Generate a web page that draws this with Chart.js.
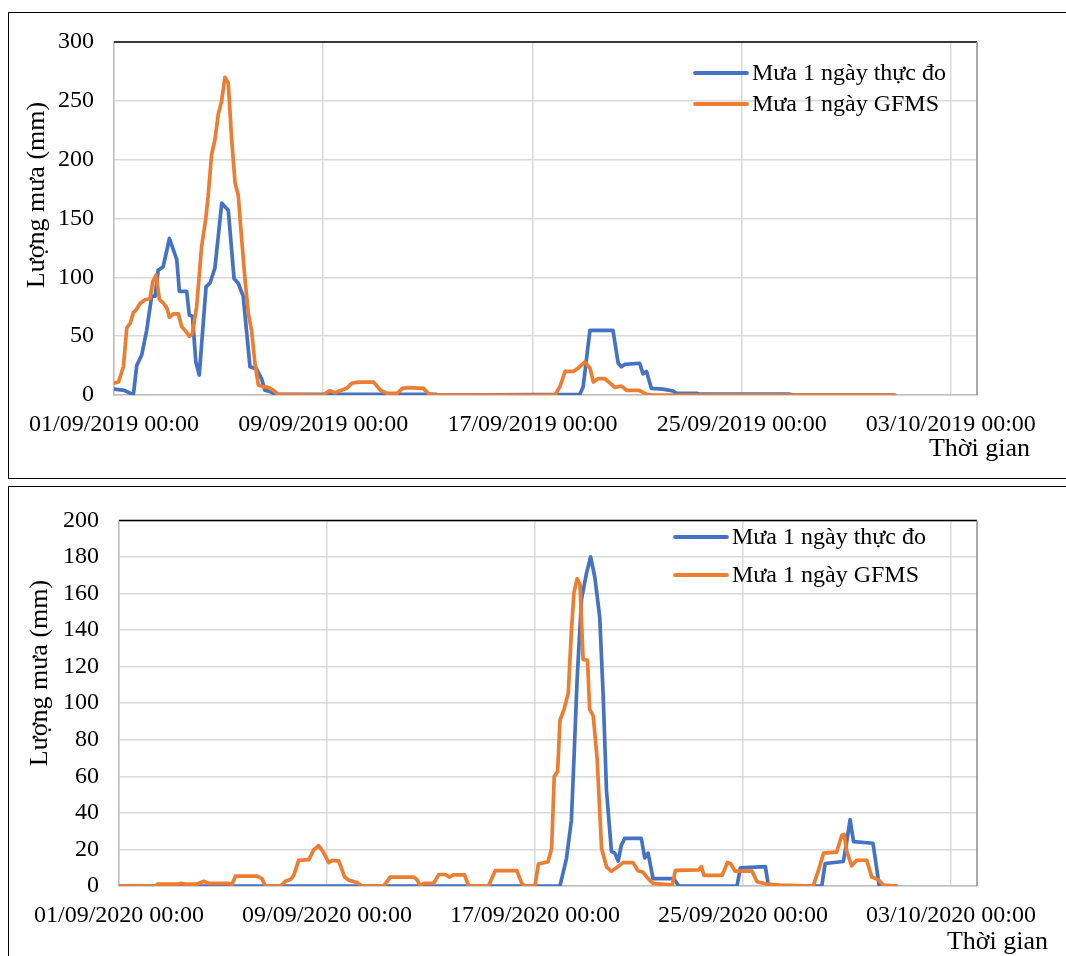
<!DOCTYPE html>
<html>
<head>
<meta charset="utf-8">
<script src="https://cdn.jsdelivr.net/npm/chart.js@4.4.1/dist/chart.umd.min.js"></script>
<style>
  html, body { margin: 0; padding: 0; background: #fff; overflow: hidden; }
  body { width: 1066px; height: 956px; position: relative; }
  .box { position: absolute; left: 8px; width: 1200px; border: 1px solid #000; }
  #box1 { top: 12px; height: 465px; }
  #box2 { top: 486px; height: 500px; }
  canvas { position: absolute; left: 0; }
  #c2019 { top: 0; }
  #c2020 { top: 486px; }
</style>
</head>
<body>
<div class="box" id="box1"></div>
<div class="box" id="box2"></div>
<canvas id="c2019" width="1066" height="478"></canvas>
<canvas id="c2020" width="1066" height="470"></canvas>
<script>
// Lượng mưa 1 ngày: thực đo vs GFMS, tháng 9/2019 và 9/2020
// trục x: số ngày kể từ 01/09 00:00

const tickDays = [0, 8, 16, 24, 32];
const tickLabels2019 = ['01/09/2019 00:00', '09/09/2019 00:00', '17/09/2019 00:00', '25/09/2019 00:00', '03/10/2019 00:00'];
const tickLabels2020 = ['01/09/2020 00:00', '09/09/2020 00:00', '17/09/2020 00:00', '25/09/2020 00:00', '03/10/2020 00:00'];
const seriesNames = ['Mưa 1 ngày thực đo', 'Mưa 1 ngày GFMS'];

// 2019 - thực đo
const obs2019Day = [
    0, 0.4, 0.74, 0.87, 1.06, 1.25, 1.44, 1.57, 1.69, 1.88,
    2.12, 2.4, 2.5, 2.78, 2.88, 3.0, 3.13, 3.26, 3.52, 3.67,
    3.86, 4.12, 4.37, 4.59, 4.75, 4.94, 5.2, 5.45, 5.64, 5.77,
    5.96, 6.2, 12.3, 12.4, 17.81, 17.94, 18.2, 19.08, 19.28, 19.4,
    19.53, 20.1, 20.23, 20.36, 20.55, 20.99, 21.38, 21.5, 22.28, 22.4,
    25.8, 26.0, 29.85
];
const obs2019Mm = [
    5, 4, 0, 25, 34, 55, 84, 84, 106, 109,
    133, 115, 88, 88, 68, 67, 28, 17, 92, 95,
    108, 163, 157, 99, 95, 84, 24, 22, 14, 4,
    3, 0.5, 0.5, 0, 0.5, 7, 55, 55, 27, 24,
    26, 27, 18, 20, 5.6, 5, 3.4, 1.4, 1.4, 0.7,
    0.7, 0, 0
];

// 2019 - GFMS
const gfms2019Day = [
    0, 0.17, 0.36, 0.49, 0.62, 0.74, 0.87, 1.0, 1.19, 1.38,
    1.48, 1.61, 1.74, 1.89, 2.02, 2.12, 2.27, 2.46, 2.59, 2.75,
    2.88, 3.0, 3.16, 3.35, 3.51, 3.6, 3.73, 3.86, 3.99, 4.11,
    4.24, 4.37, 4.5, 4.63, 4.75, 4.88, 5.01, 5.14, 5.26, 5.39,
    5.52, 5.71, 5.9, 6.09, 6.28, 8.0, 8.25, 8.45, 8.7, 8.9,
    9.09, 9.35, 9.93, 10.19, 10.44, 10.83, 11.03, 11.29, 11.83, 12.03,
    12.33, 16.86, 17.05, 17.25, 17.56, 17.76, 18.0, 18.2, 18.33, 18.52,
    18.77, 19.02, 19.15, 19.41, 19.6, 20.08, 20.37, 20.6, 29.85
];
const gfms2019Mm = [
    10, 11, 24, 57, 61, 70, 73, 78, 81, 82,
    96, 102, 81, 78, 74, 66, 69, 69, 58, 54,
    50, 52, 75, 126, 150, 169, 204, 217, 239, 249,
    270, 265, 217, 180, 170, 133, 98, 69, 55, 27,
    8.5, 7, 6.5, 4, 0.5, 0, 3.7, 2, 4, 5.7,
    10, 11, 11, 4, 1.4, 1.4, 5.7, 6.2, 5.7, 1,
    0, 0, 7, 20, 20, 23, 28, 23, 11, 14,
    14, 9, 6.5, 7.6, 4, 4, 0.5, 0, 0
];

// 2020 - thực đo
const obs2020Day = [
    0, 16.96, 17.21, 17.4, 17.5, 17.62, 17.79, 17.98, 18.14, 18.3,
    18.49, 18.62, 18.75, 18.94, 19.07, 19.2, 19.32, 19.45, 20.09, 20.22,
    20.35, 20.54, 21.34, 21.53, 23.77, 23.9, 24.86, 24.98, 27.03, 27.16,
    27.86, 27.99, 28.12, 28.25, 29.0, 29.24, 29.9
];
const obs2020Mm = [
    0, 0, 15, 36, 70, 113, 157, 171, 180, 169,
    147, 105, 52, 19, 18, 13.6, 22.4, 26, 26, 15.4,
    18, 4, 4, 0, 0, 9.9, 10.6, 0, 0, 12.3,
    13.4, 24.3, 36.3, 24.3, 23.4, 0, 0
];

// 2020 - GFMS
const gfms2020Day = [
    0, 1.41, 1.48, 2.25, 2.36, 2.56, 3.0, 3.26, 3.46, 4.16,
    4.35, 4.48, 5.31, 5.5, 5.63, 6.21, 6.4, 6.59, 6.72, 6.91,
    7.3, 7.49, 7.68, 7.84, 8.07, 8.19, 8.45, 8.68, 8.83, 9.15,
    9.35, 10.18, 10.43, 11.33, 11.46, 11.59, 11.72, 12.1, 12.3, 12.55,
    12.7, 12.87, 13.29, 13.45, 14.21, 14.47, 15.3, 15.49, 15.62, 16.0,
    16.13, 16.5, 16.64, 16.74, 16.87, 16.96, 17.12, 17.28, 17.4, 17.5,
    17.62, 17.73, 17.85, 18.02, 18.1, 18.24, 18.39, 18.56, 18.75, 18.94,
    19.13, 19.39, 19.77, 19.96, 20.16, 20.35, 20.54, 21.28, 21.4, 22.3,
    22.4, 22.5, 23.2, 23.4, 23.52, 23.7, 24.35, 24.54, 24.92, 25.43,
    26.7, 26.9, 27.1, 27.6, 27.8, 27.89, 27.99, 28.18, 28.37, 28.76,
    28.95, 29.2, 29.4, 29.9
];
const gfms2020Mm = [
    0, 0, 1, 1, 1.4, 1, 1, 2.6, 1.4, 1.4,
    1, 5.4, 5.4, 4, 0, 0, 2.6, 3.5, 5.8, 14,
    14.4, 19.8, 22, 19, 12.8, 14, 13.7, 4.9, 3.2, 1.9,
    0, 0, 4.9, 4.9, 3.5, 0, 1.4, 1.4, 6.3, 6.3,
    4.9, 6.1, 6.1, 0, 0, 8.4, 8.4, 1.4, 0, 0,
    12, 13.3, 20.6, 60, 62.6, 90.6, 96.8, 105.5, 139.6, 160.6,
    168, 165, 124, 123.5, 96.8, 93, 69.6, 20.6, 10.5, 8,
    10, 12.8, 12.8, 8.4, 7.5, 4, 1.4, 0.5, 8.5, 8.8,
    10.6, 5.8, 5.8, 12.9, 12.3, 8.1, 8.1, 2.3, 1, 0.5,
    0, 8.5, 18, 18.5, 27.8, 28.2, 19, 11, 14.1, 14.1,
    4.9, 3.5, 0.5, 0
];

const FONT = '"Liberation Serif", "Times New Roman", serif';
const BLUE = '#4472C4';
const ORANGE = '#ED7D31';

function toPoints(days, values) {
    return days.map((d, i) => ({ x: d, y: values[i] }));
}

// khung vùng vẽ (viền trên đen, viền phải xám)
const framePlugin = {
    id: 'frame',
    beforeDatasetsDraw(chart) {
        const { ctx, chartArea: a } = chart;
        ctx.save();
        ctx.lineWidth = 1.5;
        ctx.strokeStyle = '#000';
        ctx.beginPath();
        ctx.moveTo(a.left, a.top);
        ctx.lineTo(a.right, a.top);
        ctx.stroke();
        ctx.strokeStyle = '#8c8c8c';
        ctx.beginPath();
        ctx.moveTo(a.right, a.top);
        ctx.lineTo(a.right, a.bottom);
        ctx.stroke();
        ctx.restore();
    }
};

// chú giải trong vùng vẽ + tên trục
const labelsPlugin = {
    id: 'labels',
    afterDraw(chart, args, opts) {
        const ctx = chart.ctx;
        ctx.save();
        ctx.fillStyle = '#000';
        ctx.textBaseline = 'middle';
        ctx.font = '24px ' + FONT;
        chart.data.datasets.forEach((ds, i) => {
            const y = opts.legendY[i];
            ctx.strokeStyle = ds.borderColor;
            ctx.lineWidth = 3.8;
            ctx.lineCap = 'round';
            ctx.beginPath();
            ctx.moveTo(opts.legendX, y);
            ctx.lineTo(opts.legendX + 52, y);
            ctx.stroke();
            ctx.textAlign = 'left';
            ctx.fillText(ds.label, opts.legendX + 57, y + 1);
        });

        ctx.font = '26px ' + FONT;
        ctx.textAlign = 'right';
        ctx.fillText(opts.xTitle, opts.xTitleX, opts.xTitleY);

        ctx.translate(opts.yTitleX, opts.yTitleY);
        ctx.rotate(-Math.PI / 2);
        ctx.textAlign = 'center';
        ctx.fillText(opts.yTitle, 0, 0);
        ctx.restore();
    }
};

function makeChart(canvasId, cfg) {
    const ctx = document.getElementById(canvasId).getContext('2d');
    return new Chart(ctx, {
        type: 'line',
        data: {
            datasets: [
                {
                    label: seriesNames[0],
                    data: toPoints(cfg.obsDay, cfg.obsMm),
                    borderColor: BLUE,
                    borderWidth: 3.7,
                    order: 1
                },
                {
                    label: seriesNames[1],
                    data: toPoints(cfg.gfmsDay, cfg.gfmsMm),
                    borderColor: ORANGE,
                    borderWidth: 3.7,
                    order: 0
                }
            ]
        },
        options: {
            responsive: false,
            animation: false,
            parsing: false,
            elements: {
                point: { radius: 0 },
                line: { tension: 0, borderJoinStyle: 'round', borderCapStyle: 'round' }
            },
            layout: {
                padding: { left: 0, right: cfg.padRight, top: cfg.padTop, bottom: 0 }
            },
            scales: {
                x: {
                    type: 'linear',
                    min: 0,
                    max: 33,
                    afterBuildTicks: (scale) => {
                        scale.ticks = tickDays.map(v => ({ value: v }));
                    },
                    afterFit: (scale) => { scale.height = cfg.xAxisHeight; },
                    ticks: {
                        autoSkip: false,
                        maxRotation: 0,
                        padding: 15,
                        color: '#000',
                        font: { family: FONT, size: 24 },
                        callback: (value, index) => cfg.tickLabels[index]
                    },
                    grid: { color: '#d9d9d9', lineWidth: 1.5, drawTicks: false },
                    border: { color: '#bfbfbf', width: 1.5 }
                },
                y: {
                    min: 0,
                    max: cfg.yMax,
                    afterFit: (scale) => { scale.width = cfg.yAxisWidth; },
                    ticks: {
                        stepSize: cfg.yStep,
                        padding: 20,
                        color: '#000',
                        font: { family: FONT, size: 24 }
                    },
                    grid: { color: '#d9d9d9', lineWidth: 1.5, drawTicks: false },
                    border: { color: '#bfbfbf', width: 1.5 }
                }
            },
            plugins: {
                legend: { display: false },
                tooltip: { enabled: false },
                labels: {
                    legendX: cfg.legendX,
                    legendY: cfg.legendY,
                    xTitle: 'Thời gian',
                    xTitleX: cfg.xTitleX,
                    xTitleY: cfg.xTitleY,
                    yTitle: 'Lượng mưa (mm)',
                    yTitleX: cfg.yTitleX,
                    yTitleY: cfg.yTitleY
                }
            }
        },
        plugins: [framePlugin, labelsPlugin]
    });
}

makeChart('c2019', {
    obsDay: obs2019Day, obsMm: obs2019Mm,
    gfmsDay: gfms2019Day, gfmsMm: gfms2019Mm,
    tickLabels: tickLabels2019,
    yMax: 300, yStep: 50,
    padTop: 42, padRight: 89,
    yAxisWidth: 114, xAxisHeight: 83,
    legendX: 695, legendY: [73, 104],
    xTitleX: 1030, xTitleY: 449,
    yTitleX: 37, yTitleY: 195
});

makeChart('c2020', {
    obsDay: obs2020Day, obsMm: obs2020Mm,
    gfmsDay: gfms2020Day, gfmsMm: gfms2020Mm,
    tickLabels: tickLabels2020,
    yMax: 200, yStep: 20,
    padTop: 21, padRight: 89,
    yAxisWidth: 119, xAxisHeight: 70,
    legendX: 675, legendY: [51, 89],
    xTitleX: 1048, xTitleY: 456,
    yTitleX: 40, yTitleY: 187
});
</script>
</body>
</html>
